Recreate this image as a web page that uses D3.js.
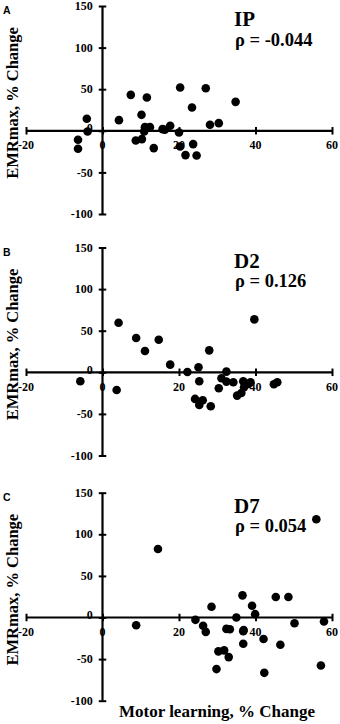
<!DOCTYPE html>
<html>
<head>
<meta charset="utf-8">
<script src="https://cdn.jsdelivr.net/npm/d3@7"></script>
<style>
  html, body { margin: 0; padding: 0; background: #fff; }
  svg { display: block; }
</style>
</head>
<body>
<svg id="chart"></svg>
<script>
// Motor learning (% change) vs EMRmax (% change), three sessions

const xTicks = [-20, 0, 20, 40, 60];
const yTicks = [-100, -50, 0, 50, 100, 150];

// IP
const ipX = [-4.1, -3.9, -6.4, -6.4, 4.3, 7.4, 10.2, 11.6, 8.7, 10.3, 11.1, 12.4, 10.9, 13.4, 15.7, 16.3, 17.7, 20.0, 20.3, 20.3, 21.7, 23.4, 23.7, 24.6, 27.0, 28.1, 30.4, 34.8];
const ipY = [14.4, -0.8, -10.8, -21.6, 12.8, 43.2, 19.2, 40, -11.6, -10, 4.4, 4.4, -0.8, -20.8, 2, 1.2, 6, -2, 52, -18.8, -29.2, 28, -16, -29.6, 51.2, 7.2, 9.2, 34.8];

// D2
const d2X = [-5.8, 3.7, 4.2, 8.8, 11.1, 14.7, 17.7, 22.2, 25.1, 25.3, 24.2, 25.3, 26.2, 27.9, 28.3, 30.4, 31.1, 32.4, 32.4, 34.2, 35.2, 36.3, 37.0, 36.8, 38.1, 38.7, 39.7, 44.8, 45.7];
const d2Y = [-10.8, -21.2, 59.6, 41.2, 25.6, 39.2, 9.2, 0.4, 6, -10.8, -32, -39.2, -33.6, 26.4, -40.8, -19.2, -7.2, 0.8, -11.2, -12, -28, -24.8, -18, -10.8, -14, -12, 63.6, -14.4, -12];

// D7
const d7X = [8.8, 14.5, 24.3, 26.3, 27.0, 28.5, 29.8, 30.3, 31.8, 32.4, 33.3, 33.0, 35.0, 36.6, 36.8, 36.9, 36.8, 39.1, 39.9, 42.1, 42.3, 45.3, 46.5, 48.6, 50.2, 55.9, 57.1, 57.9];
const d7Y = [-9.3, 82.3, -2.8, -10, -17.3, 12.9, -62, -40.7, -39.5, -13.7, -14.1, -47.6, 0, 26.6, -16.5, -15, -31.5, 14.1, 4, -25.8, -66.5, 24.6, -32.7, 24.6, -6.9, 118, -57.7, -4.8];

const panelLetters = ["A", "B", "C"];
const panelNames = ["IP", "D2", "D7"];
const panelRho = ["ρ = -0.044", "ρ = 0.126", "ρ = 0.054"];
const panelXs = [ipX, d2X, d7X];
const panelYs = [ipY, d2Y, d7Y];

const width = 340, height = 724;
const panelTops = [6, 247.5, 492.7];
const panelH = 208;
const serif = "'Liberation Serif', 'DejaVu Serif', serif";

const svg = d3.select("#chart")
  .attr("width", width)
  .attr("height", height)
  .attr("viewBox", [0, 0, width, height].join(" "));

const x = d3.scaleLinear().domain([-20, 60]).range([26, 332]);
const y = d3.scaleLinear().domain([-100, 150]).range([panelH, 0]);

panelNames.forEach((name, i) => {
  const g = svg.append("g")
    .attr("transform", `translate(0,${panelTops[i]})`);

  const pts = panelXs[i].map((v, k) => ({ x: v, y: panelYs[i][k] }));

  // x tick labels (the "0" sits under the y axis line)
  g.append("g")
    .selectAll("text")
    .data(xTicks)
    .join("text")
    .attr("x", d => x(d))
    .attr("y", y(0) + 18.5)
    .attr("text-anchor", "middle")
    .attr("font-family", serif)
    .attr("font-weight", "bold")
    .attr("font-size", "12px")
    .text(d => d);

  // y tick labels
  g.append("g")
    .selectAll("text")
    .data(yTicks)
    .join("text")
    .attr("x", x(0) - 9.8)
    .attr("y", d => y(d))
    .attr("dy", d => d === 0 ? "0.1em" : "0.35em")
    .attr("text-anchor", "end")
    .attr("font-family", serif)
    .attr("font-weight", "bold")
    .attr("font-size", "12px")
    .text(d => d);

  // points
  g.append("g")
    .selectAll("circle")
    .data(pts)
    .join("circle")
    .attr("cx", d => x(d.x))
    .attr("cy", d => y(d.y))
    .attr("r", 4.3)
    .attr("fill", "#000");

  // axes crossing at 0
  const xAxis = d3.axisBottom(x).tickValues(xTicks).tickSize(7.5).tickFormat("");
  const yAxis = d3.axisLeft(y).tickValues(yTicks).tickSize(7.5).tickFormat("");

  const gx = g.append("g")
    .attr("transform", `translate(0,${y(0) - 3.75})`)
    .call(xAxis);
  gx.select(".domain").remove();
  gx.selectAll("line").attr("stroke", "#000").attr("stroke-width", 2);
  g.append("line")
    .attr("x1", x(-20)).attr("x2", x(60))
    .attr("y1", y(0)).attr("y2", y(0))
    .attr("stroke", "#000").attr("stroke-width", 2.2);

  const gy = g.append("g")
    .attr("transform", `translate(${x(0) + 3.75},0)`)
    .call(yAxis);
  gy.select(".domain").remove();
  gy.selectAll("line").attr("stroke", "#000").attr("stroke-width", 2);
  g.append("line")
    .attr("x1", x(0)).attr("x2", x(0))
    .attr("y1", y(150)).attr("y2", y(-100))
    .attr("stroke", "#000").attr("stroke-width", 2.2);

  // y axis title
  g.append("text")
    .attr("transform", `translate(18.3,${panelH - 111}) rotate(-90)`)
    .attr("text-anchor", "middle")
    .attr("font-family", serif)
    .attr("font-weight", "bold")
    .attr("font-size", "16.5px")
    .text("EMRmax, % Change");

  // panel letter
  g.append("text")
    .attr("x", 3)
    .attr("y", 8)
    .attr("font-family", "'Liberation Sans', Arial, sans-serif")
    .attr("font-weight", "bold")
    .attr("font-size", "10.5px")
    .text(panelLetters[i]);

  // session name and correlation
  g.append("text")
    .attr("x", 234)
    .attr("y", 20)
    .attr("font-family", serif)
    .attr("font-weight", "bold")
    .attr("font-size", "21px")
    .text(name);

  g.append("text")
    .attr("x", 235)
    .attr("y", 39.5)
    .attr("font-family", serif)
    .attr("font-weight", "bold")
    .attr("font-size", "18.5px")
    .text(panelRho[i]);
});

// x axis title, bottom panel only
svg.append("text")
  .attr("x", 217)
  .attr("y", 717)
  .attr("text-anchor", "middle")
  .attr("font-family", serif)
  .attr("font-weight", "bold")
  .attr("font-size", "17px")
  .text("Motor learning, % Change");
</script>
</body>
</html>
